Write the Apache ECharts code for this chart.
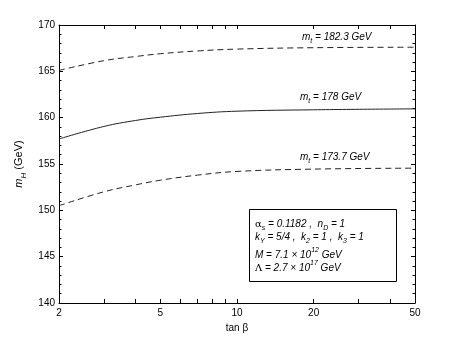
<!DOCTYPE html>
<html>
<head>
<meta charset="utf-8">
<script src="https://cdn.jsdelivr.net/npm/echarts@6/dist/echarts.min.js"></script>
<style>
html, body { margin: 0; padding: 0; background: #fff; }
#main { width: 458px; height: 341px; }
</style>
</head>
<body>
<div id="main"></div>
<script>
// tan beta sample points and m_H values (GeV)
var tanBeta = [2, 3, 4, 5, 7, 10, 20, 50];
var mH_1823 = [165.1, 166.15, 166.6, 166.9, 167.2, 167.4, 167.55, 167.6];
var mH_178 = [157.7, 159.05, 159.7, 160.05, 160.45, 160.7, 160.85, 160.95];
var mH_1737 = [150.5, 152.0, 152.75, 153.25, 153.8, 154.2, 154.45, 154.55];

var xLabelTicks = [2, 5, 10, 20, 50];
var xAllTicks = [2, 3, 4, 5, 6, 7, 8, 9, 10, 20, 30, 40, 50];
var yMin = 140, yMax = 170, yStep = 5;

var FONT = '"Liberation Sans", Arial, Helvetica, sans-serif';

function toLog(arr) {
	return arr.map(function(v) { return Math.log10(v); });
}
function pairs(ys) {
	return tanBeta.map(function(t, i) { return [Math.log10(t), ys[i]]; });
}

function xAxisCfg(pos, showLabel) {
	return {
		type: 'value',
		position: pos,
		min: Math.log10(2),
		max: Math.log10(50),
		axisLine: { show: true, lineStyle: { color: '#000', width: 1 } },
		axisTick: { show: true, inside: true, length: 4, customValues: toLog(xAllTicks), lineStyle: { color: '#000' } },
		axisLabel: {
			show: showLabel,
			customValues: toLog(xLabelTicks),
			margin: 5,
			color: '#000',
			fontSize: 10,
			fontFamily: FONT,
			formatter: function(v) { return Math.round(Math.pow(10, v)); }
		},
		splitLine: { show: false }
	};
}

function yAxisCfg(pos, showLabel) {
	return {
		type: 'value',
		position: pos,
		min: yMin,
		max: yMax,
		interval: yStep,
		axisLine: { show: true, lineStyle: { color: '#000', width: 1 } },
		axisTick: { show: true, inside: true, length: 4, lineStyle: { color: '#000' } },
		minorTick: { show: true, splitNumber: 5, length: 2.5, lineStyle: { color: '#000' } },
		axisLabel: { show: showLabel, margin: 4, color: '#000', fontSize: 10, fontFamily: FONT },
		splitLine: { show: false }
	};
}

var bottomX = xAxisCfg('bottom', true);
bottomX.name = 'tan β';
bottomX.nameLocation = 'middle';
bottomX.nameGap = 16;
bottomX.nameTextStyle = { color: '#000', fontSize: 10, fontFamily: FONT };

var leftY = yAxisCfg('left', true);
leftY.name = '{i|m}{s|H}{n| (GeV)}';
leftY.nameLocation = 'middle';
leftY.nameGap = 24;
leftY.nameTextStyle = {
	color: '#000', fontSize: 11, fontFamily: FONT, lineHeight: 16,
	rich: {
		i: { fontStyle: 'italic', fontSize: 11, lineHeight: 16, fontFamily: FONT, color: '#000' },
		s: { fontStyle: 'italic', fontSize: 8, lineHeight: 9, verticalAlign: 'bottom', fontFamily: FONT, color: '#000' },
		n: { fontSize: 11, lineHeight: 16, fontFamily: FONT, color: '#000' }
	}
};

var richText = {
	i: { fontStyle: 'italic', fontSize: 10, lineHeight: 16, fontFamily: FONT, fill: '#000' },
	s: { fontStyle: 'italic', fontSize: 7, lineHeight: 9, verticalAlign: 'bottom', fontFamily: FONT, fill: '#000' },
	p: { fontStyle: 'italic', fontSize: 7, lineHeight: 9, verticalAlign: 'top', fontFamily: FONT, fill: '#000' },
	g: { fontSize: 10, lineHeight: 16, fontFamily: '"DejaVu Serif", "Liberation Serif", serif', fill: '#000' }
};

function label(x, y, text) {
	return {
		type: 'text', left: x, top: y, z: 10,
		style: { text: text, rich: richText, font: 'italic 10px ' + FONT, fill: '#000' }
	};
}

function lineSeries(name, ys, dashed) {
	return {
		name: name,
		type: 'line',
		data: pairs(ys),
		smooth: 0.4,
		symbol: 'none',
		silent: true,
		lineStyle: { color: '#222', width: 1, type: dashed ? [6, 4] : 'solid' }
	};
}

var option = {
	animation: false,
	backgroundColor: '#fff',
	grid: { left: 59, right: 43, top: 25, bottom: 38, containLabel: false, outerBoundsMode: 'none' },
	xAxis: [bottomX, xAxisCfg('top', false)],
	yAxis: [leftY, yAxisCfg('right', false)],
	series: [
		lineSeries('182.3', mH_1823, true),
		lineSeries('178', mH_178, false),
		lineSeries('173.7', mH_1737, true)
	],
	graphic: [
		label(302, 32, '{i|m}{s|t}{i| = 182.3 GeV}'),
		label(300, 92, '{i|m}{s|t}{i| = 178 GeV}'),
		label(300, 152, '{i|m}{s|t}{i| = 173.7 GeV}'),
		{
			type: 'rect', left: 249, top: 209, z: 5,
			shape: { width: 147, height: 72 },
			style: { fill: '#fff', stroke: '#000', lineWidth: 1 }
		},
		label(255, 219, '{g|α}{s|s}{i| = 0.1182 ,  n}{s|D}{i| = 1}'),
		label(255, 232, '{i|k}{s|Y}{i| = 5/4 ,  k}{s|2}{i| = 1 ,  k}{s|3}{i| = 1}'),
		label(255, 247, '{i|M = 7.1 × 10}{p|12}{i| GeV}'),
		label(255, 260, '{g|Λ}{i| = 2.7 × 10}{p|17}{i| GeV}')
	]
};

var myChart = echarts.init(document.getElementById('main'), null, { renderer: 'canvas' });
myChart.setOption(option, true);
</script>
</body>
</html>
